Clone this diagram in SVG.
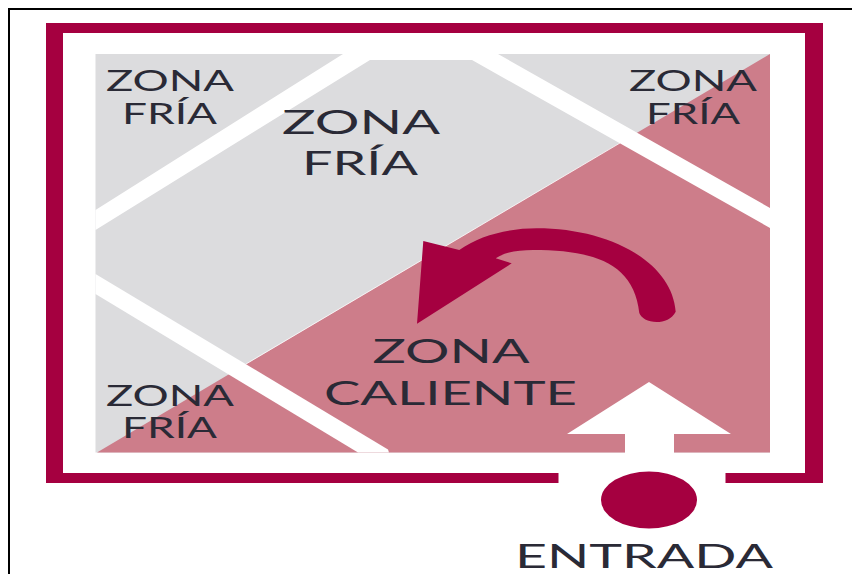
<svg xmlns="http://www.w3.org/2000/svg" width="853" height="574" viewBox="0 0 853 574">
<style>
.m{fill:#a50040}
.w{fill:#fff}
text{font-family:"Lato","Liberation Sans",sans-serif;fill:#2a2a36;font-weight:400}
.s{font-size:28px}
.l{font-size:33.5px}
</style>
<rect width="853" height="574" fill="#fff"/>
<g id="page-border"><path d="M9 574V9H852" fill="none" stroke="#000" stroke-width="2"/></g>
<g id="floor">
<rect x="95.5" y="54" width="674.5" height="398.5" fill="#dcdcde"/>
<polygon points="97,452.5 770,54 770,452.5" fill="#cd7d8a"/>
<line x1="246" y1="364" x2="620" y2="143" stroke="#fff" stroke-width="0.8"/>
<polygon class="w" points="95.5,210 343,54 498,54 770,208 770,228 472,60 370,60 95.5,230"/>
<polygon class="w" points="95.5,274 388,449.5 389,452.5 358,452.5 95.5,294"/>
</g>
<g id="wall"><path class="m" fill-rule="evenodd" d="M46 23H823V483H725.500V473H805V33H63V473H558.500V483H46Z"/></g>
<g id="connectors">
<path id="turn-arrow" class="m" d="M417 323.700L423.300 241L459.300 250C480 235 510 228.300 536.700 228.300C610 228.300 672 262 675.700 311.700C672 319 664 322 656.700 322C648 322 641 318 639.300 313C634 262 592 250 533 250C518 250 505 252 495.700 258.300L511.700 263.300Z"/>
<polygon id="entry-arrow" class="w" points="649,382 731,434 674,434 674,473 625,473 625,434 567,434"/>
</g>
<g id="zona-fria-nw"><text class="s" x="106" y="90.700" textLength="128" lengthAdjust="spacingAndGlyphs">ZONA</text><text class="s" x="122" y="123.500" textLength="95" lengthAdjust="spacingAndGlyphs">FRÍA</text></g>
<g id="zona-fria-center"><text class="l" x="282" y="134" textLength="158" lengthAdjust="spacingAndGlyphs">ZONA</text><text class="l" x="302" y="174.700" textLength="116" lengthAdjust="spacingAndGlyphs">FRÍA</text></g>
<g id="zona-fria-ne"><text class="s" x="629" y="90.700" textLength="128" lengthAdjust="spacingAndGlyphs">ZONA</text><text class="s" x="646" y="123.500" textLength="94" lengthAdjust="spacingAndGlyphs">FRÍA</text></g>
<g id="zona-fria-sw"><text class="s" x="106" y="405.700" textLength="128" lengthAdjust="spacingAndGlyphs">ZONA</text><text class="s" x="122" y="438" textLength="95" lengthAdjust="spacingAndGlyphs">FRÍA</text></g>
<g id="zona-caliente"><text class="l" x="372.500" y="363" textLength="157" lengthAdjust="spacingAndGlyphs">ZONA</text><text class="l" x="324" y="404.700" textLength="253" lengthAdjust="spacingAndGlyphs">CALIENTE</text></g>
<g id="entrada"><ellipse class="m" cx="649" cy="500" rx="48" ry="28.500"/><text class="l" x="515" y="568" textLength="258" lengthAdjust="spacingAndGlyphs">ENTRADA</text></g>
</svg>
